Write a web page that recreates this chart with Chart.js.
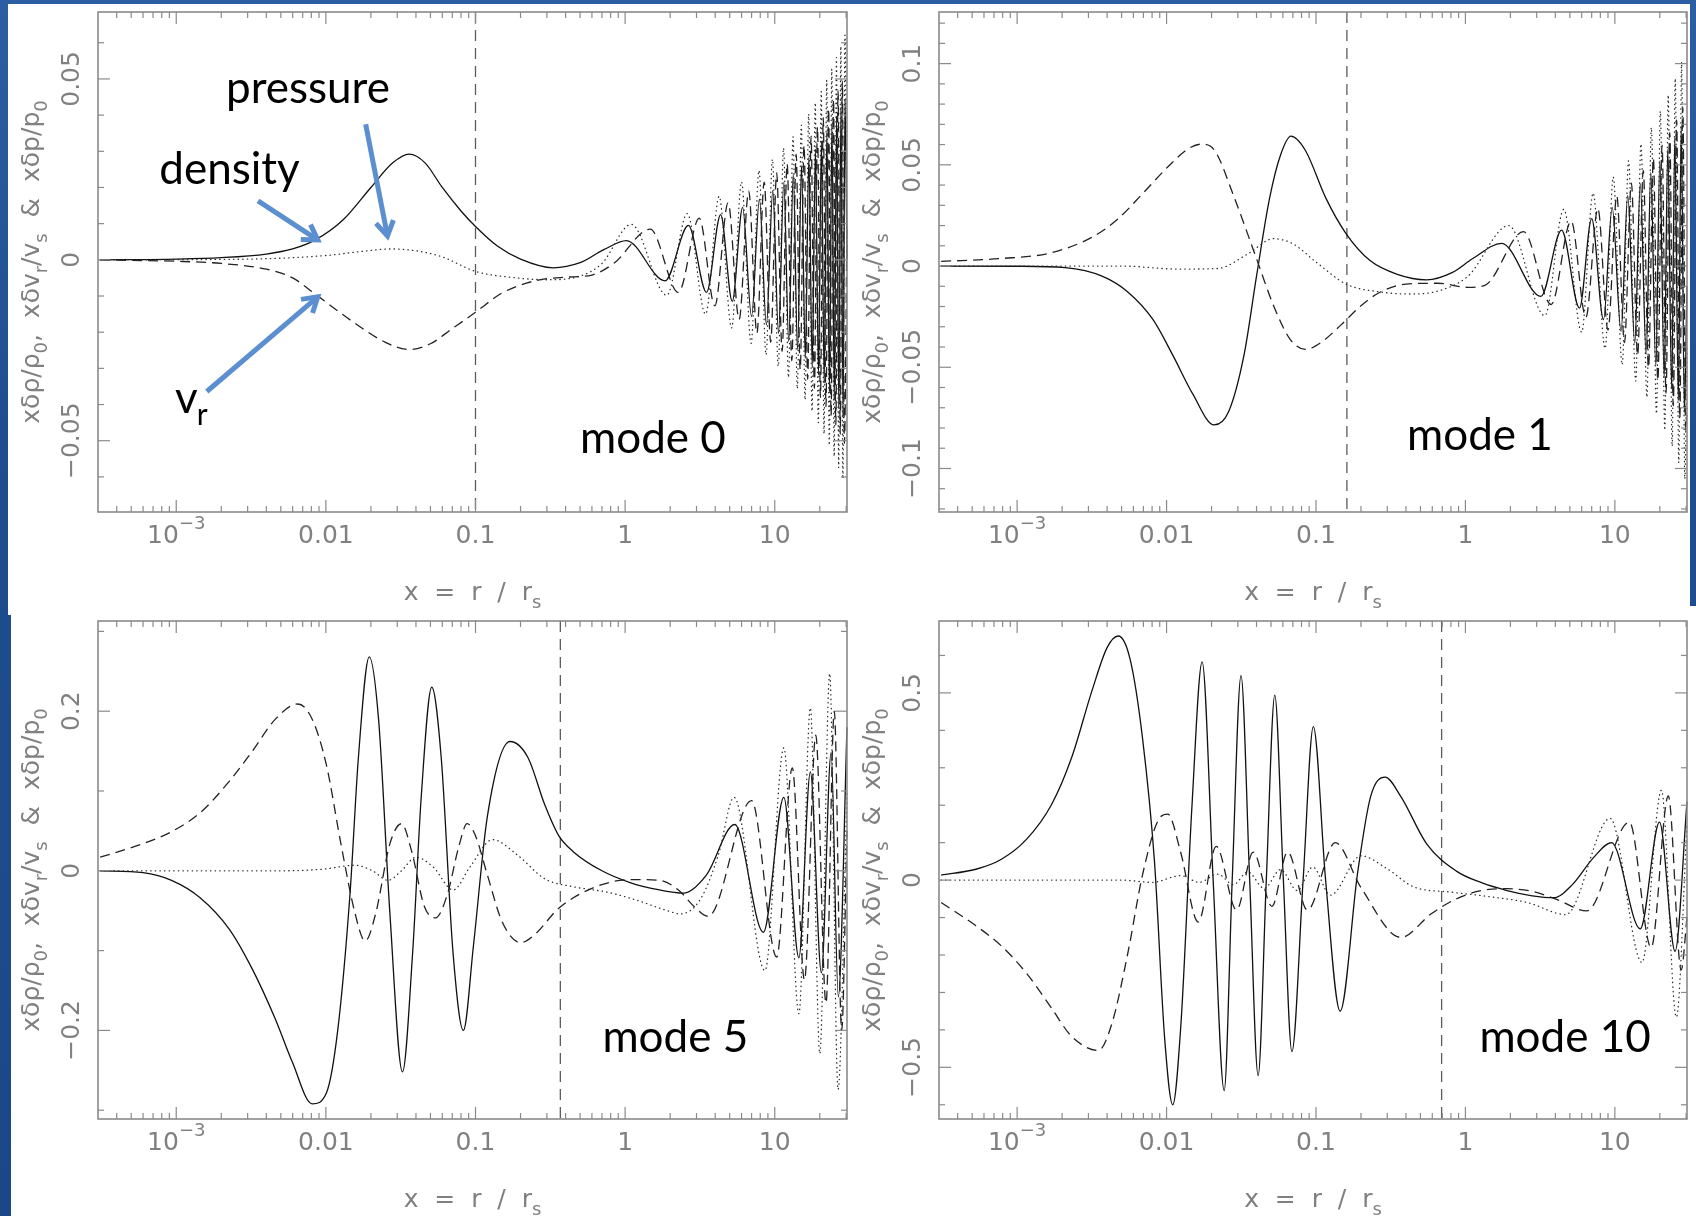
<!DOCTYPE html>
<html>
<head>
<meta charset="utf-8">
<script src="https://cdn.jsdelivr.net/npm/chart.js@4.4.1/dist/chart.umd.min.js"></script>
<style>
  html, body { margin: 0; padding: 0; }
  body {
    width: 1696px; height: 1216px; position: relative; overflow: hidden;
    background: linear-gradient(180deg, #2c5ea4 0%, #1f4e90 35%, #1a4788 100%);
  }
  .sheet { position: absolute; background: #fff; }
  .panel { position: absolute; }
</style>
</head>
<body>
<div class="sheet" style="left:8px;top:4px;width:1682px;height:611px"></div>
<div class="sheet" style="left:11px;top:606px;width:1685px;height:610px"></div>

<div class="panel" style="left:0;top:0;width:860px;height:615px"><canvas id="p0"></canvas></div>
<div class="panel" style="left:860px;top:0;width:836px;height:615px"><canvas id="p1"></canvas></div>
<div class="panel" style="left:0;top:615px;width:860px;height:601px"><canvas id="p2"></canvas></div>
<div class="panel" style="left:860px;top:615px;width:836px;height:601px"><canvas id="p3"></canvas></div>

<script>
/* ---- axes ---- */
const X_MIN = 3.1e-4, X_MAX = 30.4;
const xMajorTicks = [1e-3, 0.01, 0.1, 1, 10];
const xTickLabels = ['10^{−3}', '0.01', '0.1', '1', '10'];
const xTitle = 'x  =  r  /  r_{s}';
const yTitle = 'xδρ/ρ_{0},  xδv_{r}/v_{s}  &  xδp/p_{0}';

const modeNames   = ['mode 0', 'mode 1', 'mode 5', 'mode 10'];
const modeLabelAt = [[0.5, -0.0535], [0.407, -0.091], [0.705, -0.2266], [1.24, -0.46]];
const sonicX      = [0.1, 0.161, 0.369, 0.693];
const yRanges     = [[-0.0697, 0.0685], [-0.1215, 0.1255], [-0.311, 0.313], [-0.638, 0.692]];
const yMajorTicks = [[-0.05, 0, 0.05], [-0.1, -0.05, 0, 0.05, 0.1], [-0.2, 0, 0.2], [-0.5, 0, 0.5]];
const yTickLabels = [['−0.05', '0', '0.05'], ['−0.1', '−0.05', '0', '0.05', '0.1'], ['−0.2', '0', '0.2'], ['−0.5', '0', '0.5']];
const yMinorStep  = [0.01, 0.01, 0.1, 0.1];

/* ---- mode 0 ---- */
const mode0Density = [[3.1e-4,0],[1e-3,0.0002],[2e-3,0.0006],[4e-3,0.0016],[6e-3,0.003],[8.5e-3,0.0055],[0.013,0.011],[0.02,0.02],[0.028,0.0268],[0.036,0.0292],[0.046,0.0268],[0.06,0.02],[0.08,0.0135],[0.1,0.0092],[0.14,0.0038],[0.2,0.0002],[0.33,-0.0022],[0.5,-0.0008],[0.72,0.0028],[1.02,0.0053],[1.85,-0.0058],[2.65,0.0095],[3.5,-0.009],[4.35,0.0125],[5.2,-0.0115],[6.1,0.0145],[7.0,-0.0157],[7.9,0.0168],[8.8,-0.018],[9.7,0.0191],[10.6,-0.0203],[11.5,0.0214],[12.4,-0.0226],[13.3,0.0237],[14.2,-0.0249],[15.1,0.026],[16.0,-0.0272],[16.9,0.0283],[17.8,-0.0295],[18.7,0.0306],[19.6,-0.0318],[20.5,0.0329],[21.4,-0.0341],[22.3,0.0352],[23.2,-0.0364],[24.1,0.0375],[25.0,-0.0387],[25.9,0.0398],[26.8,-0.041],[27.7,0.0421],[28.6,-0.0433],[29.5,0.0444],[30.4,0.0]];
const mode0Pressure = [[3.1e-4,0],[3e-3,0.0002],[0.01,0.0012],[0.018,0.0024],[0.027,0.003],[0.04,0.0025],[0.06,0.0008],[0.1,-0.0032],[0.17,-0.0048],[0.3,-0.0055],[0.5,-0.0045],[0.7,-0.001],[1.1,0.0098],[1.9,-0.0098],[2.6,0.0128],[3.45,-0.015],[4.25,0.0175],[5.15,-0.0188],[6.0,0.0215],[6.95,-0.0231],[7.85,0.0247],[8.75,-0.0262],[9.65,0.0278],[10.55,-0.0294],[11.45,0.0309],[12.35,-0.0325],[13.25,0.034],[14.15,-0.0356],[15.05,0.0372],[15.95,-0.0387],[16.85,0.0403],[17.75,-0.0418],[18.65,0.0434],[19.55,-0.045],[20.45,0.0465],[21.35,-0.0481],[22.25,0.0496],[23.15,-0.0512],[24.05,0.0527],[24.95,-0.0543],[25.85,0.0559],[26.75,-0.0574],[27.65,0.059],[28.55,-0.0605],[29.45,0.0621],[30.4,0.0]];
const mode0Velocity = [[3.1e-4,0],[1e-3,-0.0004],[2e-3,-0.001],[4e-3,-0.0026],[6e-3,-0.005],[8.5e-3,-0.0095],[0.015,-0.017],[0.025,-0.0228],[0.036,-0.0248],[0.05,-0.0232],[0.07,-0.019],[0.1,-0.0145],[0.15,-0.0092],[0.25,-0.0058],[0.4,-0.0048],[0.6,-0.0042],[0.85,-0.0008],[1.47,0.0085],[2.27,-0.009],[3.13,0.0115],[3.98,-0.0127],[4.88,0.0158],[5.78,-0.0165],[6.7,0.019],[7.6,-0.0203],[8.5,0.0215],[9.4,-0.0228],[10.3,0.024],[11.2,-0.0253],[12.1,0.0266],[13.0,-0.0279],[13.9,0.0292],[14.8,-0.0304],[15.7,0.0317],[16.6,-0.033],[17.5,0.0342],[18.4,-0.0355],[19.3,0.0368],[20.2,-0.038],[21.1,0.0393],[22.0,-0.0406],[22.9,0.0418],[23.8,-0.0431],[24.7,0.0444],[25.6,-0.0456],[26.5,0.0469],[27.4,-0.0482],[28.3,0.0494],[29.2,-0.0507],[30.4,0.01]];

/* ---- mode 1 ---- */
const mode1Density = [[3.1e-4,0],[1e-3,-0.0001],[2.1e-3,-0.0008],[3.7e-3,-0.005],[5.5e-3,-0.0128],[8.1e-3,-0.0264],[0.011,-0.044],[0.015,-0.0633],[0.0208,-0.0785],[0.026,-0.072],[0.033,-0.0439],[0.04,-0.005],[0.049,0.0338],[0.058,0.055],[0.068,0.0642],[0.085,0.0571],[0.116,0.0338],[0.158,0.0163],[0.23,0.0027],[0.35,-0.0041],[0.55,-0.0068],[0.82,-0.0031],[1.12,0.0037],[1.75,0.0112],[3.2,-0.015],[4.4,0.0177],[5.8,-0.0208],[7.0,0.0234],[8.4,-0.0265],[9.6,0.029],[11.0,-0.0322],[12.2,0.0348],[13.6,-0.038],[14.8,0.0406],[16.2,-0.0436],[17.4,0.0463],[18.8,-0.0494],[20.0,0.052],[21.4,-0.0551],[22.6,0.0577],[24.0,-0.0608],[25.2,0.0634],[26.6,-0.0665],[27.8,0.0692],[29.2,-0.0722],[30.4,-0.01]];
const mode1Pressure = [[3.1e-4,0],[5e-3,0],[0.012,-0.0015],[0.022,-0.0012],[0.035,0.006],[0.052,0.0135],[0.07,0.011],[0.1,0.002],[0.16,-0.009],[0.27,-0.0128],[0.42,-0.0138],[0.65,-0.0124],[1.04,-0.005],[1.95,0.02],[3.4,-0.0245],[4.55,0.028],[6.0,-0.0326],[7.15,0.036],[8.6,-0.0407],[9.75,0.044],[11.2,-0.0487],[12.35,0.052],[13.8,-0.0568],[14.95,0.0603],[16.4,-0.0648],[17.55,0.0684],[19.0,-0.0729],[20.15,0.0765],[21.6,-0.081],[22.75,0.0845],[24.2,-0.089],[25.35,0.0926],[26.8,-0.0971],[27.95,0.1007],[29.4,-0.1051],[30.4,-0.04]];
const mode1Velocity = [[3.1e-4,0.0023],[7.8e-4,0.0037],[1.7e-3,0.0066],[3.2e-3,0.0144],[4.7e-3,0.0231],[6.9e-3,0.0357],[0.0103,0.0493],[0.014,0.058],[0.017,0.0602],[0.021,0.057],[0.0284,0.0338],[0.0387,0.0066],[0.0527,-0.0206],[0.067,-0.0361],[0.085,-0.0412],[0.107,-0.038],[0.146,-0.0293],[0.2,-0.0196],[0.27,-0.0128],[0.4,-0.0089],[0.65,-0.0085],[1.04,-0.0105],[1.35,-0.0095],[2.45,0.017],[3.75,-0.019],[5.1,0.0222],[6.4,-0.0254],[7.7,0.0285],[9.0,-0.0316],[10.3,0.0347],[11.6,-0.0378],[12.9,0.041],[14.2,-0.0441],[15.5,0.0472],[16.8,-0.0503],[18.1,0.0534],[19.4,-0.0566],[20.7,0.0597],[22.0,-0.0628],[23.3,0.0659],[24.6,-0.069],[25.9,0.0722],[27.2,-0.0753],[28.5,0.0784],[29.8,-0.0815],[30.4,-0.07]];

/* ---- mode 5 ---- */
const mode5Density = [[3.1e-4,0],[6e-4,-0.0024],[9.3e-4,-0.012],[1.45e-3,-0.034],[2.26e-3,-0.073],[3.2e-3,-0.122],[4.6e-3,-0.186],[5.95e-3,-0.239],[8.1e-3,-0.292],[0.0101,-0.278],[0.012,-0.2],[0.0145,-0.029],[0.0165,0.142],[0.0195,0.268],[0.0225,0.19],[0.0268,-0.054],[0.0325,-0.252],[0.038,-0.103],[0.0434,0.093],[0.051,0.23],[0.059,0.142],[0.0708,-0.103],[0.083,-0.2],[0.097,-0.093],[0.12,0.068],[0.17,0.162],[0.224,0.142],[0.29,0.083],[0.36,0.044],[0.45,0.024],[0.7,0.0],[1.09,-0.015],[1.7,-0.024],[2.45,-0.028],[3.5,-0.005],[5.4,0.058],[8.4,-0.077],[11.5,0.092],[14.5,-0.109],[17.3,0.124],[20.5,-0.128],[23.8,0.148],[26.6,-0.158],[30.4,0.18]];
const mode5Pressure = [[3.1e-4,0],[5e-3,0.0],[0.0095,0.002],[0.0135,0.006],[0.0155,0.007],[0.0205,0.0],[0.026,-0.012],[0.032,0.0],[0.04,0.017],[0.052,0.005],[0.071,-0.024],[0.092,0.005],[0.13,0.039],[0.19,0.02],[0.29,-0.01],[0.45,-0.02],[0.77,-0.027],[1.2,-0.037],[1.85,-0.049],[2.35,-0.054],[3.2,-0.035],[4.2,0.02],[5.35,0.092],[8.6,-0.125],[11.5,0.154],[14.5,-0.179],[17.3,0.204],[20.0,-0.229],[23.3,0.247],[26.5,-0.274],[30.4,0.1]];
const mode5Velocity = [[3.1e-4,0.017],[6e-4,0.034],[9.3e-4,0.049],[1.45e-3,0.073],[2.26e-3,0.112],[3.2e-3,0.149],[4.6e-3,0.19],[6.5e-3,0.209],[8.1e-3,0.19],[0.0101,0.132],[0.0126,0.034],[0.0157,-0.054],[0.0183,-0.088],[0.0215,-0.054],[0.0268,0.034],[0.032,0.059],[0.0375,0.024],[0.0454,-0.044],[0.054,-0.059],[0.065,-0.029],[0.077,0.029],[0.088,0.059],[0.1,0.044],[0.12,-0.005],[0.15,-0.063],[0.2,-0.09],[0.255,-0.078],[0.35,-0.049],[0.5,-0.029],[0.77,-0.015],[1.09,-0.011],[1.7,-0.012],[2.3,-0.025],[2.9,-0.045],[3.6,-0.057],[7.0,0.088],[10.3,-0.108],[13.1,0.129],[15.8,-0.137],[18.8,0.17],[22.0,-0.166],[25.0,0.2],[28.0,-0.2],[30.4,0.05]];

/* ---- mode 10 ---- */
const mode10Density = [[3.1e-4,0.0136],[5.3e-4,0.029],[7.8e-4,0.055],[1.15e-3,0.108],[1.7e-3,0.202],[2.32e-3,0.328],[3.17e-3,0.506],[4e-3,0.621],[4.75e-3,0.652],[5.7e-3,0.59],[6.9e-3,0.38],[8.3e-3,0.05],[9.7e-3,-0.42],[0.011,-0.6],[0.0125,-0.38],[0.0148,0.2],[0.0173,0.583],[0.0205,0.0],[0.0243,-0.562],[0.0275,0.0],[0.0315,0.546],[0.036,0.0],[0.041,-0.522],[0.0465,0.0],[0.053,0.494],[0.0605,0.0],[0.069,-0.458],[0.082,0.0],[0.096,0.41],[0.116,0.0],[0.145,-0.35],[0.19,0.02],[0.232,0.223],[0.29,0.275],[0.37,0.223],[0.55,0.097],[0.87,0.024],[1.28,-0.007],[1.9,-0.028],[2.8,-0.042],[3.9,-0.047],[5.2,-0.012],[7.2,0.06],[9.5,0.1],[14.8,-0.13],[19.9,0.155],[25.3,-0.19],[30.4,0.21]];
const mode10Pressure = [[3.1e-4,0],[5e-3,0],[8e-3,-0.006],[0.0125,0.012],[0.0165,-0.006],[0.022,0.016],[0.028,-0.012],[0.035,0.022],[0.045,-0.022],[0.058,0.028],[0.075,-0.028],[0.095,0.035],[0.125,-0.04],[0.2,0.065],[0.3,0.03],[0.45,-0.018],[0.8,-0.032],[1.5,-0.045],[2.6,-0.06],[4.7,-0.092],[9.3,0.165],[15.2,-0.22],[20.5,0.24],[25.8,-0.366],[30.4,0.15]];
const mode10Velocity = [[3.1e-4,-0.06],[5.3e-4,-0.122],[7.8e-4,-0.175],[1.15e-3,-0.248],[1.7e-3,-0.342],[2.3e-3,-0.416],[3.5e-3,-0.455],[4.3e-3,-0.384],[5.5e-3,-0.196],[6.9e-3,0.0136],[8.8e-3,0.16],[0.0102,0.176],[0.0124,0.076],[0.0163,-0.112],[0.0215,0.09],[0.0294,-0.08],[0.038,0.075],[0.0507,-0.07],[0.0646,0.075],[0.0876,-0.08],[0.1346,0.1],[0.2,-0.02],[0.37,-0.153],[0.59,-0.09],[0.87,-0.05],[1.28,-0.028],[1.9,-0.023],[2.8,-0.03],[4.0,-0.05],[6.5,-0.082],[12.5,0.155],[17.5,-0.18],[22.8,0.225],[27.8,-0.24],[30.4,-0.1]];

/* ---- annotations of the first panel (data coordinates) ---- */
const annotWords  = [['pressure', 0.00215, 0.0433], ['density', 7.7e-4, 0.021]];
const vrLabelAt   = [9.8e-4, -0.0422];
const annotArrows = [[[0.00352, 0.0163], [0.00883, 0.0055]],
                     [[0.01845, 0.0375], [0.0258, 0.0066]],
                     [[0.0016, -0.0364], [0.00883, -0.0102]]];

const panels = [
  { id: 'p0', density: mode0Density,  pressure: mode0Pressure,  velocity: mode0Velocity,  yAxisW: 98, pad: { top: 12, right: 13 }, xAxisH: 103 },
  { id: 'p1', density: mode1Density,  pressure: mode1Pressure,  velocity: mode1Velocity,  yAxisW: 79, pad: { top: 12, right: 9 },  xAxisH: 103 },
  { id: 'p2', density: mode5Density,  pressure: mode5Pressure,  velocity: mode5Velocity,  yAxisW: 98, pad: { top: 6, right: 13 },  xAxisH: 97 },
  { id: 'p3', density: mode10Density, pressure: mode10Pressure, velocity: mode10Velocity, yAxisW: 79, pad: { top: 6, right: 9 },   xAxisH: 97 },
];

/* ---- helpers ---- */
const AXIS_FONT = '"DejaVu Sans ExtraLight", "DejaVu Sans", sans-serif';
const AXIS_INK = '#808080';

function parseRich(str) {
  const parts = [], re = /([_^])\{([^}]*)\}/g;
  let last = 0, m;
  while ((m = re.exec(str))) {
    if (m.index > last) parts.push({ t: str.slice(last, m.index), k: 0 });
    parts.push({ t: m[2], k: m[1] === '_' ? -1 : 1 });
    last = re.lastIndex;
  }
  if (last < str.length) parts.push({ t: str.slice(last), k: 0 });
  return parts;
}

function drawRich(ctx, str, x, y, size) {
  const parts = parseRich(str);
  const font = k => `${k ? size * 0.72 : size}px ${AXIS_FONT}`;
  let w = 0;
  parts.forEach(p => { ctx.font = font(p.k); p.w = ctx.measureText(p.t).width; w += p.w; });
  let cx = x - w / 2;
  ctx.textAlign = 'left';
  ctx.textBaseline = 'middle';
  parts.forEach(p => {
    ctx.font = font(p.k);
    const dy = p.k === -1 ? size * 0.4 : p.k === 1 ? -size * 0.45 : 0;
    ctx.fillText(p.t, cx, y + dy);
    cx += p.w;
  });
}

function seg(ctx, x1, y1, x2, y2) {
  ctx.beginPath(); ctx.moveTo(x1, y1); ctx.lineTo(x2, y2); ctx.stroke();
}

function arrow(ctx, x1, y1, x2, y2) {
  const ang = Math.atan2(y2 - y1, x2 - x1), head = 17, spread = 0.55;
  ctx.save();
  ctx.strokeStyle = '#5b8fd0';
  ctx.lineWidth = 5;
  ctx.lineCap = 'butt';
  seg(ctx, x1, y1, x2 - 2 * Math.cos(ang), y2 - 2 * Math.sin(ang));
  ctx.lineJoin = 'miter';
  ctx.beginPath();
  ctx.moveTo(x2 - head * Math.cos(ang - spread), y2 - head * Math.sin(ang - spread));
  ctx.lineTo(x2, y2);
  ctx.lineTo(x2 - head * Math.cos(ang + spread), y2 - head * Math.sin(ang + spread));
  ctx.stroke();
  ctx.restore();
}

function decoPlugin(i) {
  return {
    id: 'deco' + i,
    beforeDatasetsDraw(chart) {
      const { ctx, chartArea: a, scales: { x } } = chart;
      const px = x.getPixelForValue(sonicX[i]);
      ctx.save();
      ctx.strokeStyle = '#5c5c5c';
      ctx.lineWidth = 1.3;
      ctx.setLineDash([11, 7]);
      seg(ctx, px, a.top, px, a.bottom);
      ctx.restore();
    },
    afterDatasetsDraw(chart) {
      const { ctx, chartArea: a, scales: { x, y } } = chart;
      ctx.save();
      ctx.strokeStyle = '#8a8a8a';
      ctx.lineWidth = 1.6;
      ctx.strokeRect(a.left, a.top, a.right - a.left, a.bottom - a.top);

      /* log ticks on bottom and top */
      ctx.lineWidth = 1.2;
      for (let d = -4; d <= 1; d++) {
        for (let m = 1; m <= 9; m++) {
          const v = m * Math.pow(10, d);
          if (v < X_MIN || v > X_MAX) continue;
          const px = x.getPixelForValue(v), len = m === 1 ? 12 : 6;
          seg(ctx, px, a.bottom, px, a.bottom - len);
          seg(ctx, px, a.top, px, a.top + len);
        }
      }
      /* linear ticks on left and right */
      const [ymin, ymax] = yRanges[i], st = yMinorStep[i];
      for (let k = Math.ceil(ymin / st - 1e-6); k <= Math.floor(ymax / st + 1e-6); k++) {
        const v = k * st;
        const major = yMajorTicks[i].some(t => Math.abs(t - v) < st * 0.01);
        const py = y.getPixelForValue(v), len = major ? 12 : 6;
        seg(ctx, a.left, py, a.left + len, py);
        seg(ctx, a.right, py, a.right - len, py);
      }

      /* tick labels and titles */
      ctx.fillStyle = AXIS_INK;
      xMajorTicks.forEach((v, j) => drawRich(ctx, xTickLabels[j], x.getPixelForValue(v), a.bottom + 24, 25));
      yMajorTicks[i].forEach((v, j) => {
        ctx.save();
        ctx.translate(a.left - 26, y.getPixelForValue(v));
        ctx.rotate(-Math.PI / 2);
        drawRich(ctx, yTickLabels[i][j], 0, 0, 25);
        ctx.restore();
      });
      drawRich(ctx, xTitle, (a.left + a.right) / 2, a.bottom + 81, 25);
      ctx.save();
      ctx.translate(a.left - 66, (a.top + a.bottom) / 2);
      ctx.rotate(-Math.PI / 2);
      drawRich(ctx, yTitle, 0, 0, 25);
      ctx.restore();

      /* mode label */
      ctx.fillStyle = '#000';
      ctx.font = '44px Lato, "Open Sans", sans-serif';
      ctx.textAlign = 'left';
      ctx.textBaseline = 'alphabetic';
      ctx.fillText(modeNames[i], x.getPixelForValue(modeLabelAt[i][0]), y.getPixelForValue(modeLabelAt[i][1]));

      if (i === 0) {
        annotWords.forEach(([t, vx, vy]) => ctx.fillText(t, x.getPixelForValue(vx), y.getPixelForValue(vy)));
        const vx = x.getPixelForValue(vrLabelAt[0]), vy = y.getPixelForValue(vrLabelAt[1]);
        ctx.fillText('v', vx, vy);
        const vw = ctx.measureText('v').width;
        ctx.font = '30px Lato, "Open Sans", sans-serif';
        ctx.fillText('r', vx + vw - 1, vy + 12);
        annotArrows.forEach(([[ax, ay], [bx, by]]) =>
          arrow(ctx, x.getPixelForValue(ax), y.getPixelForValue(ay), x.getPixelForValue(bx), y.getPixelForValue(by)));
      }
      ctx.restore();
    }
  };
}

function curve(points, dash, color, cap) {
  return {
    data: points.map(([x, y]) => ({ x, y })),
    borderColor: color,
    borderWidth: 1.3,
    borderDash: dash,
    borderCapStyle: cap,
    pointRadius: 0,
    fill: false,
    cubicInterpolationMode: 'monotone',
    clip: 1
  };
}

panels.forEach((p, i) => {
  new Chart(document.getElementById(p.id), {
    type: 'line',
    data: {
      datasets: [
        curve(p.pressure, [0.4, 4.2], '#2a2a2a', 'round'),
        curve(p.velocity, [10, 6], '#222', 'butt'),
        curve(p.density, [], '#111', 'butt'),
      ]
    },
    options: {
      responsive: true,
      maintainAspectRatio: false,
      animation: false,
      devicePixelRatio: 1,
      layout: { padding: { left: 0, top: p.pad.top, right: p.pad.right, bottom: 0 } },
      plugins: { legend: { display: false }, tooltip: { enabled: false } },
      scales: {
        x: {
          type: 'logarithmic', min: X_MIN, max: X_MAX,
          ticks: { display: false }, grid: { display: false }, border: { display: false },
          afterFit: s => { s.height = p.xAxisH; }
        },
        y: {
          type: 'linear', min: yRanges[i][0], max: yRanges[i][1],
          ticks: { display: false }, grid: { display: false }, border: { display: false },
          afterFit: s => { s.width = p.yAxisW; }
        }
      }
    },
    plugins: [decoPlugin(i)]
  });
});
</script>
</body>
</html>
